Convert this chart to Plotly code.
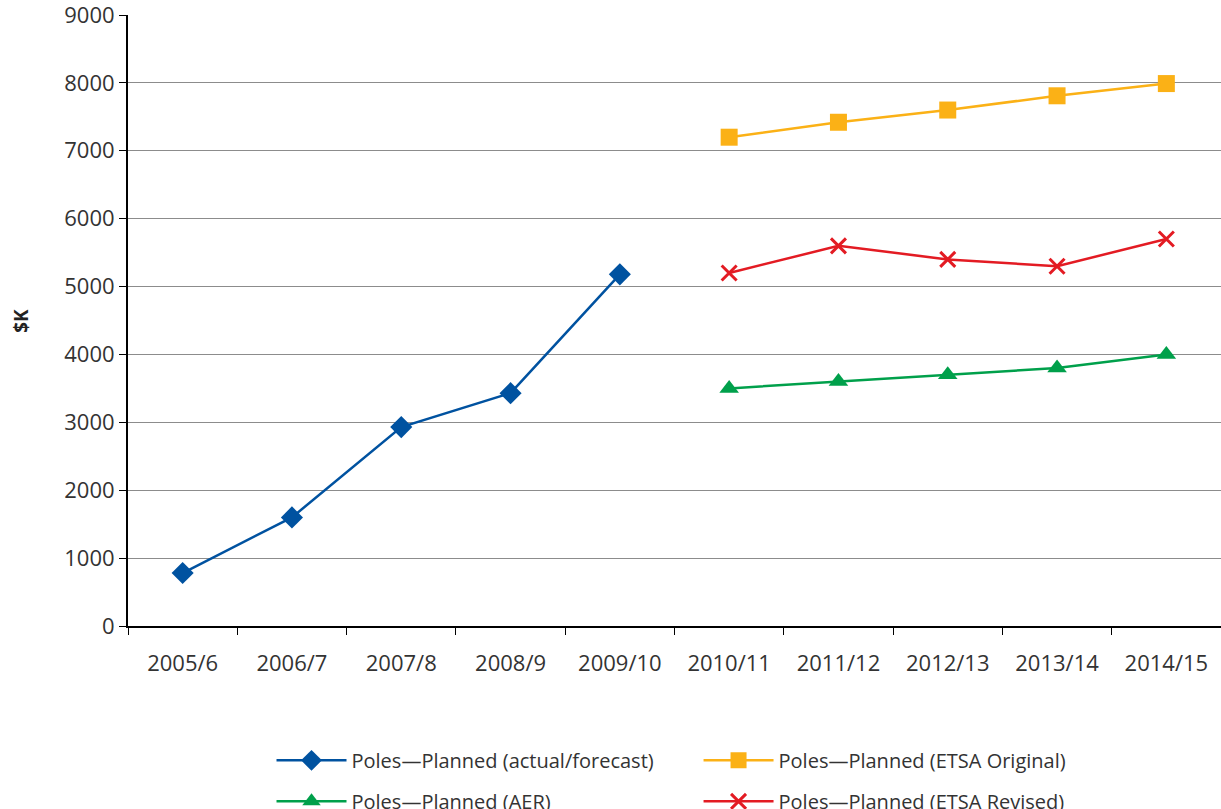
import plotly.graph_objects as go

categories = ["2005/6", "2006/7", "2007/8", "2008/9", "2009/10",
              "2010/11", "2011/12", "2012/13", "2013/14", "2014/15"]
actual_cats = categories[:5]
plan_cats = categories[5:]
actual_forecast = [780, 1600, 2930, 3430, 5180]
etsa_original = [7200, 7420, 7600, 7810, 7990]
etsa_revised = [5200, 5600, 5400, 5300, 5700]
aer = [3500, 3600, 3700, 3800, 4000]
y_ticks = [0, 1000, 2000, 3000, 4000, 5000, 6000, 7000, 8000, 9000]

FONT = "Open Sans"
TXT = "#333333"

fig = go.Figure()
fig.add_trace(go.Scatter(
    x=actual_cats, y=actual_forecast, mode="lines+markers",
    name="Poles\u2014Planned (actual/forecast)",
    line=dict(color="#0052A0", width=2.5),
    marker=dict(symbol="diamond", size=17, color="#0052A0"),
    legend="legend", legendgroup="a"))
fig.add_trace(go.Scatter(
    x=plan_cats, y=aer, mode="lines+markers",
    name="Poles\u2014Planned (AER)",
    line=dict(color="#00A04B", width=2.5),
    marker=dict(symbol="triangle-up", size=17, color="#00A04B"),
    legend="legend", legendgroup="b"))
fig.add_trace(go.Scatter(
    x=plan_cats, y=etsa_original, mode="lines+markers",
    name="Poles\u2014Planned (ETSA Original)",
    line=dict(color="#FBB116", width=2.5),
    marker=dict(symbol="square", size=17, color="#FBB116"),
    legend="legend2", legendgroup="c"))
fig.add_trace(go.Scatter(
    x=plan_cats, y=etsa_revised, mode="lines+markers",
    name="Poles\u2014Planned (ETSA Revised)",
    line=dict(color="#E31B23", width=2.5),
    marker=dict(symbol="x-thin", size=15, color="#E31B23",
                line=dict(color="#E31B23", width=3)),
    legend="legend2", legendgroup="d"))

legend_common = dict(orientation="v", yanchor="top", xanchor="left",
                     font=dict(family=FONT, size=20, color=TXT),
                     bgcolor="rgba(0,0,0,0)", itemwidth=70,
                     traceorder="grouped", tracegroupgap=12)

fig.update_layout(
    width=1221, height=809,
    margin=dict(l=128, r=0, t=15, b=183, autoexpand=False),
    paper_bgcolor="white", plot_bgcolor="white",
    font=dict(family=FONT, size=18, color=TXT),
    legend=dict(x=0.1313, y=-0.188, **legend_common),
    legend2=dict(x=0.522, y=-0.188, **legend_common),
    xaxis=dict(
        type="category", categoryorder="array", categoryarray=categories,
        range=[-0.5, 9.5], showgrid=False, automargin=False,
        showline=True, linecolor="black", linewidth=2,
        ticks="outside", tickson="boundaries", ticklen=7, tickwidth=1,
        tickcolor="black", ticklabelstandoff=17, tickangle=0,
        tickfont=dict(family=FONT, size=22, color=TXT)),
    yaxis=dict(
        range=[0, 9000], tickvals=y_ticks, showgrid=True, automargin=False,
        gridcolor="#8c8c8c", gridwidth=1, ticklabeloverflow="allow",
        showline=True, linecolor="black", linewidth=2,
        ticks="outside", ticklen=7, tickwidth=1, tickcolor="black",
        tickfont=dict(family=FONT, size=22, color=TXT), zeroline=False),
    annotations=[dict(text="<b>$K</b>", xref="paper", yref="paper",
                      x=-0.0985, y=0.5, xanchor="center", yanchor="middle",
                      textangle=-90, showarrow=False,
                      font=dict(family=FONT, size=19, color="#222222"))],
)

# remove the browser's default 8px body margin so the figure fills the window
fig.write_html("out.html",
               config={"displayModeBar": False},
               post_script="document.body.style.margin='0';"
                           "document.body.style.overflow='hidden';")
